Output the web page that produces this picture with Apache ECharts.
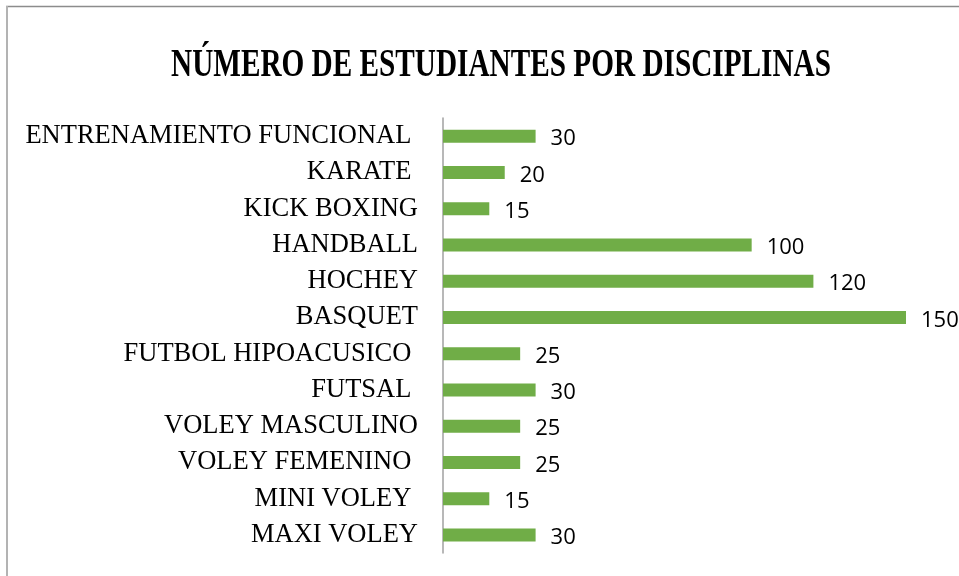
<!DOCTYPE html>
<html>
<head>
<meta charset="utf-8">
<style>
  html, body { margin: 0; padding: 0; background: #ffffff; }
  #chart { width: 959px; height: 576px; }
</style>
<script src="https://cdn.jsdelivr.net/npm/echarts@6/dist/echarts.min.js"></script>
</head>
<body>
<div id="chart"></div>
<script>
// Disciplines, listed from top to bottom (some names carry a trailing space)
const categories = [
  'ENTRENAMIENTO FUNCIONAL ',
  'KARATE ',
  'KICK BOXING',
  'HANDBALL',
  'HOCHEY',
  'BASQUET',
  'FUTBOL HIPOACUSICO ',
  'FUTSAL ',
  'VOLEY MASCULINO',
  'VOLEY FEMENINO ',
  'MINI VOLEY ',
  'MAXI VOLEY'
];
// Students enrolled per discipline
const students = [30, 20, 15, 100, 120, 150, 25, 30, 25, 25, 15, 30];

const titleText = 'NÚMERO DE ESTUDIANTES POR DISCIPLINAS';

const chart = echarts.init(document.getElementById('chart'), null, { renderer: 'canvas' });

chart.setOption({
  backgroundColor: '#ffffff',
  animation: false,
  graphic: [
    // chart frame (top and left edges)
    { type: 'line', shape: { x1: 6, y1: 6.5, x2: 959, y2: 6.5 }, style: { stroke: '#8c8c8c', lineWidth: 1.5 } },
    { type: 'line', shape: { x1: 7, y1: 6, x2: 7, y2: 576 }, style: { stroke: '#b3b3b3', lineWidth: 2 } },
    // condensed bold title
    {
      type: 'text',
      x: 501,
      y: 66,
      scaleX: 0.75,
      style: {
        text: titleText,
        font: 'bold 39px "Liberation Serif", "Times New Roman", serif',
        fill: '#000000',
        align: 'center',
        verticalAlign: 'middle'
      }
    }
  ],
  grid: {
    left: 443,
    right: 53,
    top: 118,
    bottom: 23,
    containLabel: false
  },
  xAxis: {
    type: 'value',
    min: 0,
    max: 150,
    show: false
  },
  yAxis: {
    type: 'category',
    data: categories,
    inverse: true,
    axisLine: { show: true, lineStyle: { color: '#a0a0a0', width: 1.5 } },
    axisTick: { show: false },
    splitLine: { show: false },
    axisLabel: {
      margin: 25,
      color: '#000000',
      fontFamily: '"Liberation Serif", "Times New Roman", serif',
      fontSize: 26.5,
      padding: [4, 0, 0, 0]
    }
  },
  series: [{
    type: 'bar',
    data: students,
    barWidth: 13,
    itemStyle: { color: '#70AD47' },
    label: {
      show: true,
      position: 'right',
      distance: 15,
      offset: [0, 3],
      color: '#000000',
      fontFamily: '"Open Sans", sans-serif',
      fontSize: 22
    }
  }]
});
</script>
</body>
</html>
